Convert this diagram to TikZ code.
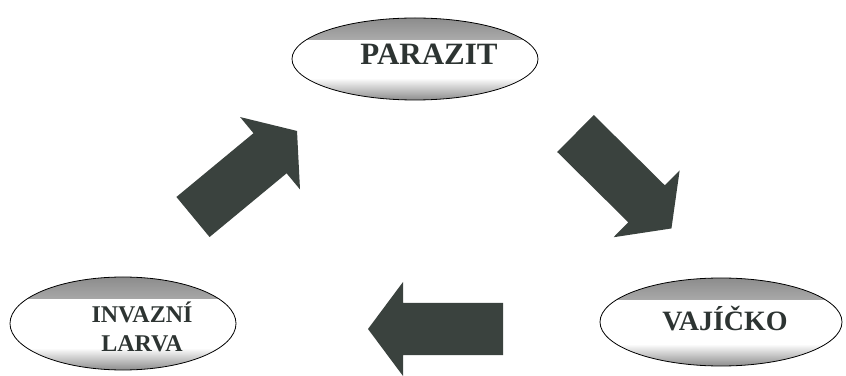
\documentclass[tikz,border=0pt]{standalone}
\usepackage{fontspec}
\setmainfont{Liberation Serif}
\newfontfamily\stagefont{Liberation Serif}[BoldFont={Liberation Serif Bold}]
\usetikzlibrary{shapes.geometric}
\definecolor{arrowgray}{RGB}{58,66,62}
\definecolor{inkgray}{RGB}{45,52,50}
\tikzset{
  stage/.style={ellipse, draw=black, line width=0.8pt, inner sep=0pt,
    path picture={
      \shade[top color=gray!90, bottom color=white]
        (path picture bounding box.north west) rectangle ([yshift=-22pt]path picture bounding box.north east);
      \shade[top color=white, bottom color=gray!90]
        (path picture bounding box.south west) rectangle ([yshift=22pt]path picture bounding box.south east);
    }},
  stagetext/.style={font=\stagefont\bfseries\fontsize{30}{34}\selectfont, text=inkgray, align=center, inner sep=0pt},
  blockarrow/.style={fill=arrowgray}
}
\begin{document}
\begin{tikzpicture}[x=1pt,y=1pt]
\useasboundingbox (0,0) rectangle (846,375);
% ellipsy
\node[stage, minimum width=246pt, minimum height=82pt] (parazit) at (415,316) {};
\node[stagetext, font=\stagefont\bfseries\fontsize{31}{34}\selectfont] (parazitlabel) at (429,321) {PARAZIT};
\node[stage, minimum width=226pt, minimum height=93pt] (larva) at (123,51.5) {};
\node[stagetext, font=\stagefont\bfseries\fontsize{24}{29}\selectfont] (larvalabel) at (142,48) {INVAZNÍ\\LARVA};
\node[stage, minimum width=242pt, minimum height=88pt] (vajicko) at (721,53) {};
\node[stagetext, font=\stagefont\bfseries\fontsize{28}{34}\selectfont] (vajickolabel) at (725,56) {VAJÍČKO};
% sipky
\foreach \x/\y/\a in {193/158/39.6, 575.5/241.5/-44.7, 503/46/180}
  \fill[blockarrow, shift={(\x,\y)}, rotate=\a] (0,-26) -- (100,-26) -- (100,-47) -- (135,0) -- (100,47) -- (100,26) -- (0,26) -- cycle;
\end{tikzpicture}
\end{document}
